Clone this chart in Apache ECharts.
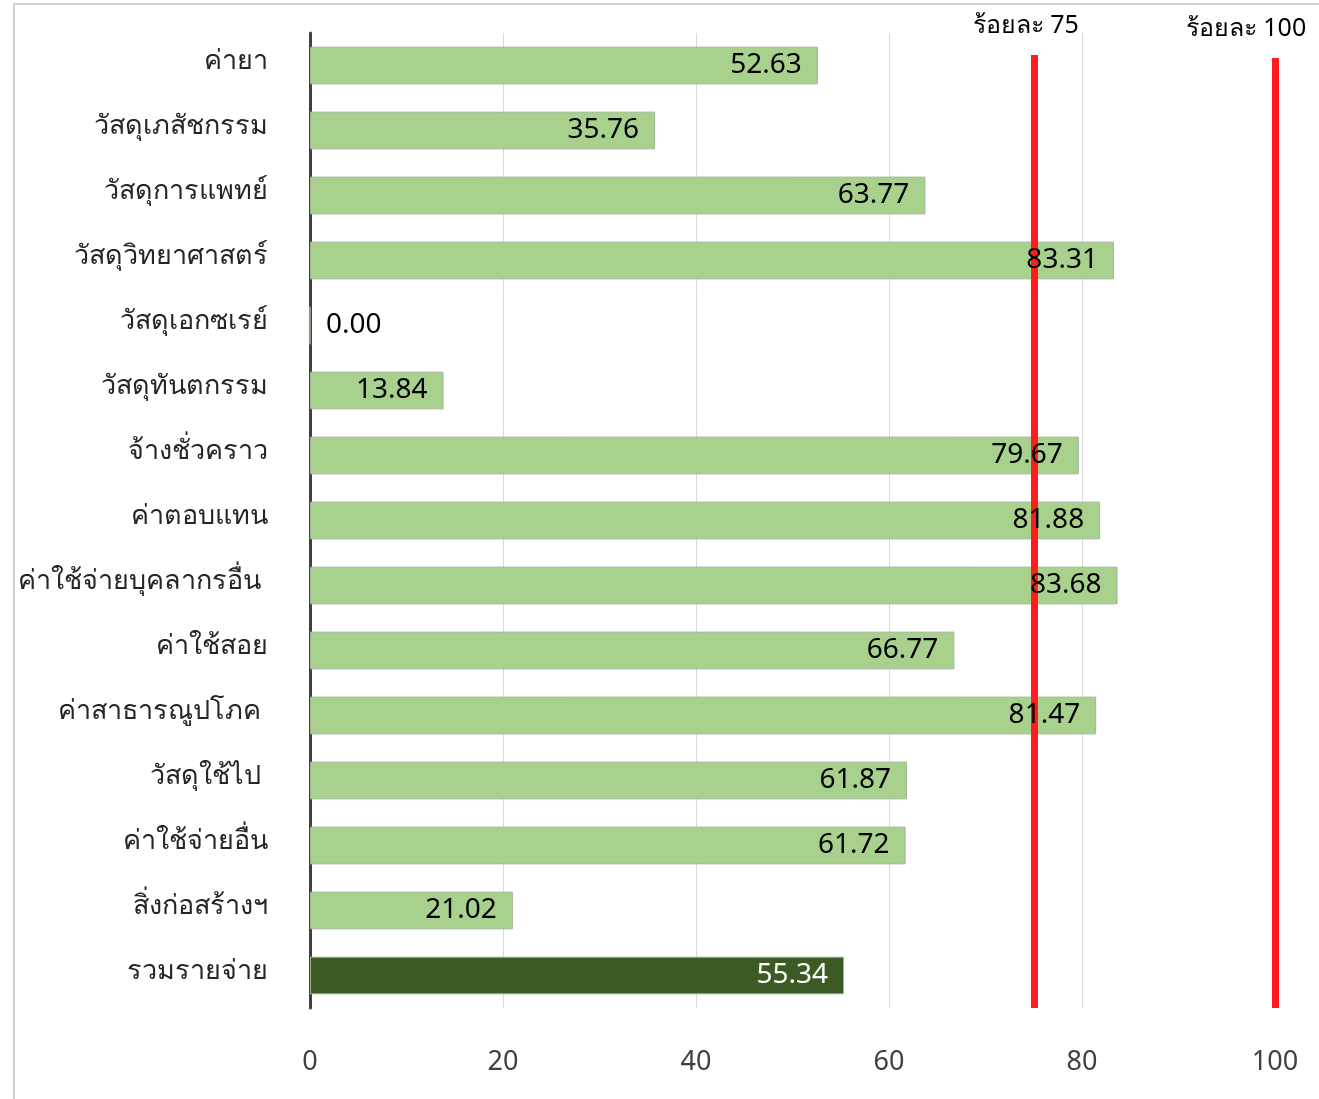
<!DOCTYPE html>
<html>
<head>
<meta charset="utf-8">
<script src="https://cdn.jsdelivr.net/npm/echarts@6/dist/echarts.min.js"></script>
<style>html,body{margin:0;padding:0;background:#fff;}#c{width:1319px;height:1099px;}</style>
</head>
<body>
<div id="c"></div>
<script>
const categories = ['ค่ายา','วัสดุเภสัชกรรม','วัสดุการแพทย์','วัสดุวิทยาศาสตร์','วัสดุเอกซเรย์','วัสดุทันตกรรม','จ้างชั่วคราว','ค่าตอบแทน','ค่าใช้จ่ายบุคลากรอื่น ','ค่าใช้สอย','ค่าสาธารณูปโภค ','วัสดุใช้ไป ','ค่าใช้จ่ายอื่น','สิ่งก่อสร้างฯ','รวมรายจ่าย'];
const values = [52.63,35.76,63.77,83.31,0.00,13.84,79.67,81.88,83.68,66.77,81.47,61.87,61.72,21.02,55.34];
const targets = [75, 100];
const targetLabels = ['ร้อยละ 75','ร้อยละ 100'];
const xTicks = [0,20,40,60,80,100];

const FONT = '"Noto Sans", "Leelawadee UI", Tahoma, sans-serif';
const last = categories.length - 1;
const barData = values.map((v,i)=>({value:v, itemStyle:{color: i===last ? '#3b5a24' : '#a9d18e'}}));
const labelData = values.map((v,i)=>{
  const item = {value:v};
  if (i===last) item.label = {color:'#ffffff'};
  if (v===0) item.label = {position:'right', distance:16};
  return item;
});

const chart = echarts.init(document.getElementById('c'));
chart.setOption({
  animation:false,
  backgroundColor:'#ffffff',
  graphic:[{type:'rect', shape:{x:14, y:4, width:1400, height:1200}, style:{fill:'none', stroke:'#d0d0d0', lineWidth:2}, z:-1}],
  grid:{left:310, right:44, top:33, bottom:91},
  xAxis:{type:'value', min:xTicks[0], max:xTicks[xTicks.length-1], interval:20,
    axisLine:{show:false}, axisTick:{show:false},
    splitLine:{lineStyle:{color:'#d9d9d9', width:1}},
    axisLabel:{fontSize:27, color:'#404040', margin:41, fontFamily:FONT}},
  yAxis:{type:'category', data:categories, inverse:true,
    axisLine:{lineStyle:{color:'#404040', width:3}}, axisTick:{show:false},
    axisLabel:{fontSize:27, color:'#262626', margin:42, fontFamily:FONT, verticalAlign:'bottom', lineHeight:27, padding:[0,0,-9,0]}},
  series:[
    {type:'bar', data:barData, barCategoryGap:'42%', barGap:'-100%', z:2,
      itemStyle:{borderColor:'#9fb596', borderWidth:1}},
    {type:'bar', data:[], z:3,
      markLine:{silent:true, symbol:'none', animation:false, z:3,
        lineStyle:{color:'#ff1c1c', width:7, type:'solid'},
        label:{show:true, position:'start', fontSize:25, color:'#000', fontFamily:FONT, distance:4,
          backgroundColor:'#ffffff', padding:[2,0,17,0]},
        data: targets.map((t,i)=>({xAxis:t, label:{formatter:targetLabels[i], offset: i===1 ? [-29,29] : [-8,26]}}))
      }},
    {type:'bar', data:labelData, barCategoryGap:'42%', barGap:'-100%', z:6,
      itemStyle:{color:'rgba(0,0,0,0)'},
      label:{show:true, position:'insideRight', distance:16, fontSize:28, color:'#000', fontFamily:FONT,
        formatter:p=>p.value.toFixed(2)}}
  ]
});
</script>
</body>
</html>
